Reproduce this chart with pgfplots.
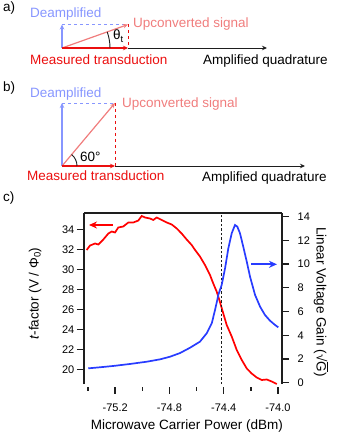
\documentclass[border=0pt]{standalone}
\usepackage{pgfplots}
\pgfplotsset{compat=1.18}
\usetikzlibrary{arrows.meta}
\usepackage{fontspec}
\setmainfont{Liberation Sans}
\definecolor{cred}{RGB}{255,0,0}
\definecolor{cblue}{RGB}{40,60,255}
\definecolor{lblue}{RGB}{135,150,255}
\definecolor{pinkc}{RGB}{240,125,125}
\definecolor{mred}{RGB}{235,15,15}
\definecolor{axc}{RGB}{30,30,30}

\pgfplotstableread{
x y
-75.410 31.95
-75.385 32.40
-75.348 32.60
-75.324 32.50
-75.287 33.00
-75.250 33.60
-75.225 33.80
-75.201 33.70
-75.177 34.20
-75.140 34.30
-75.103 34.70
-75.066 34.70
-75.029 34.90
-75.004 35.35
-74.980 35.20
-74.943 35.10
-74.919 34.95
-74.894 35.20
-74.857 34.95
-74.820 34.70
-74.783 34.50
-74.746 34.10
-74.710 33.60
-74.673 33.00
-74.636 32.45
-74.611 31.95
-74.575 31.30
-74.538 30.45
-74.501 29.45
-74.477 28.60
-74.452 27.80
-74.432 26.95
-74.403 25.60
-74.378 24.45
-74.341 23.30
-74.304 21.95
-74.267 20.95
-74.230 20.10
-74.194 19.60
-74.157 19.20
-74.120 18.95
-74.083 19.00
-74.046 18.80
-74.009 18.55
}\redtab

\pgfplotstableread{
x y
-75.398 1.21
-75.312 1.30
-75.214 1.41
-75.090 1.58
-74.967 1.77
-74.869 1.97
-74.796 2.19
-74.722 2.50
-74.648 2.95
-74.575 3.46
-74.525 4.17
-74.488 5.01
-74.464 6.13
-74.447 7.00
-74.440 7.40
-74.415 8.24
-74.390 9.65
-74.366 11.33
-74.341 12.60
-74.317 13.30
-74.300 13.16
-74.280 12.60
-74.256 11.47
-74.230 10.20
-74.206 8.94
-74.169 7.40
-74.132 6.41
-74.096 5.71
-74.059 5.23
-74.022 4.87
-73.998 4.67
}\bluetab

\begin{document}
\fontsize{13.5}{16}\selectfont
\begin{tikzpicture}[x=1pt,y=1pt]
\useasboundingbox (0,0) rectangle (340,434);

% ---------- panel a ----------
\node[anchor=base west, inner sep=0] at (3,422) {a)};
\draw[axc, line width=0.9pt, -{Stealth[length=5pt,width=4.5pt]}] (128,386) -- (267,386);
\draw[lblue, line width=0.8pt, dashed] (62,409.5) -- (128,409.5);
\draw[mred, line width=0.8pt, dashed] (128,409.5) -- (128,386);
\draw[lblue, line width=1.2pt, -{Stealth[length=5pt,width=4.5pt]}] (62,386) -- (62,409.5);
\draw[pinkc, line width=1.2pt, -{Stealth[length=5pt,width=4.5pt]}] (62,386) -- (128,409.5);
\draw[mred, line width=1.2pt, -{Stealth[length=5pt,width=4.5pt]}] (62,386) -- (128,386);
\draw[axc, line width=0.9pt] (110,386) arc (0:19.6:48);
\node[anchor=base west, inner sep=0] at (113,394) {θ\textsubscript{t}};
\node[anchor=base west, inner sep=0, text=lblue] at (30,416.5) {Deamplified};
\node[anchor=base west, inner sep=0, text=pinkc] at (133,406) {Upconverted signal};
\node[anchor=base west, inner sep=0, text=mred] at (30,369.5) {Measured transduction};
\node[anchor=base west, inner sep=0] at (203,369) {Amplified quadrature};

% ---------- panel b ----------
\node[anchor=base west, inner sep=0] at (3,342.5) {b)};
\draw[axc, line width=0.9pt, -{Stealth[length=5pt,width=4.5pt]}] (115,268) -- (305,268);
\draw[lblue, line width=0.8pt, dashed] (62,331) -- (115,331);
\draw[mred, line width=0.8pt, dashed] (115,331) -- (115,268);
\draw[lblue, line width=1.2pt, -{Stealth[length=5pt,width=4.5pt]}] (62,268) -- (62,331);
\draw[pinkc, line width=1.2pt, -{Stealth[length=5pt,width=4.5pt]}] (62,268) -- (115,331);
\draw[mred, line width=1.2pt, -{Stealth[length=5pt,width=4.5pt]}] (62,268) -- (115,268);
\draw[axc, line width=0.9pt] (77,268) arc (0:50:15);
\node[anchor=base west, inner sep=0] at (80,272.3) {60°};
\node[anchor=base west, inner sep=0, text=lblue] at (30,336.7) {Deamplified};
\node[anchor=base west, inner sep=0, text=pinkc] at (122,326.7) {Upconverted signal};
\node[anchor=base west, inner sep=0, text=mred] at (27,253) {Measured transduction};
\node[anchor=base west, inner sep=0] at (202,252.5) {Amplified quadrature};

% ---------- panel c ----------
\node[anchor=base west, inner sep=0] at (3,232) {c)};

\begin{axis}[
  at={(84pt,50pt)}, anchor=south west,
  scale only axis, width=198pt, height=171pt,
  xmin=-75.4295, xmax=-73.9705, ymin=18.55, ymax=35.65,
  axis x line*=bottom, axis y line*=left,
  axis line style={line width=1.3pt, axc},
  x axis line style={draw=none},
  tick style={line width=1.3pt, axc},
  tick align=outside,
  major tick length=7pt, minor tick length=4pt,
  xtick={-75.2,-74.8,-74.4,-74.0},
  xticklabels={-75.2,-74.8,-74.4,-74.0},
  minor xtick={-75.4,-75.0,-74.6,-74.2},
  xtick style={yshift=-2.5pt},
  ytick={20,22,...,34},
  ticklabel style={font=\fontsize{11}{13}\selectfont},
  xticklabel style={yshift=-8pt},
  yticklabel style={xshift=2pt},
  /pgf/number format/assume math mode=true,
  xlabel={Microwave Carrier Power (dBm)},
  ylabel={\textit{t}-factor (V / Φ\textsubscript{0})},
  xlabel style={at={(axis description cs:0.52,-0.246)}, anchor=center},
  ylabel style={at={(axis description cs:-0.247,0.529)}, anchor=center},
  label style={font=\fontsize{13.5}{16}\selectfont},
  clip=false,
]
\addplot[cred, line width=1.7pt] table[x=x,y=y] {\redtab};
\draw[axc, line width=0.8pt, dash pattern=on 2.5pt off 2pt] (axis cs:-74.42,18.55) -- (axis cs:-74.42,35.65);
\end{axis}

\begin{axis}[
  at={(84pt,50pt)}, anchor=south west,
  scale only axis, width=198pt, height=171pt,
  xmin=-75.4295, xmax=-73.9705, ymin=-0.11, ymax=14.31,
  axis x line*=top, axis y line*=right,
  axis line style={line width=1.3pt, axc},
  tick style={line width=1.3pt, axc},
  tick align=outside,
  major tick length=7pt,
  xtick=\empty,
  ytick={0,2,...,14},
  ticklabel style={font=\fontsize{11}{13}\selectfont},
  yticklabel style={xshift=4pt},
  /pgf/number format/assume math mode=true,
  ylabel={Linear Voltage Gain (√$\overline{\hbox{G}}$)},
  ylabel style={at={(axis description cs:1.197,0.48)}, anchor=center, rotate=180},
  label style={font=\fontsize{13.5}{16}\selectfont},
  clip=false,
]
\addplot[cblue, line width=1.7pt] table[x=x,y=y] {\bluetab};
\end{axis}

\draw[cred, line width=2pt, -{Stealth[length=8pt,width=7pt]}] (113,209) -- (89,209);
\draw[cblue, line width=2pt, -{Stealth[length=8pt,width=7pt]}] (251,169.7) -- (277,169.7);
\end{tikzpicture}
\end{document}
